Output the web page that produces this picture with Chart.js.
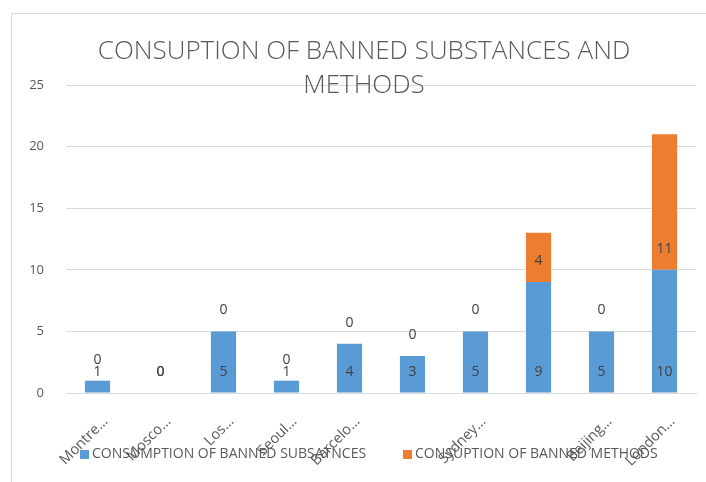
<!DOCTYPE html>
<html>
<head>
<meta charset="utf-8">
<script src="https://cdn.jsdelivr.net/npm/chart.js@4.4.1/dist/chart.umd.min.js"></script>
<style>
  html, body { margin: 0; padding: 0; background: #fff; overflow: hidden; }
  #wrap { position: relative; width: 706px; height: 482px; overflow: hidden; }
  #frame { position: absolute; left: 11px; top: 13px; width: 720px; height: 500px;
           border-left: 1px solid #d9d9d9; border-top: 1px solid #d9d9d9; }
  canvas { position: absolute; left: 0; top: 0; }
</style>
</head>
<body>
<div id="wrap">
  <div id="frame"></div>
  <canvas id="c" width="706" height="482"></canvas>
</div>
<script>
// Host cities (names truncated as on the axis)
const categories = ['Montre…', 'Mosco…', 'Los…', 'Seoul…', 'Barcelo…', '', 'Sydney…', '', 'Beijing…', 'London…'];
// Cases per Games
const bannedSubstances = [1, 0, 5, 1, 4, 3, 5, 9, 5, 10];
const bannedMethods    = [0, 0, 0, 0, 0, 0, 0, 4, 0, 11];
const yTicks = [0, 5, 10, 15, 20, 25];
const titleLines = ['CONSUPTION OF BANNED SUBSTANCES AND', 'METHODS'];
const seriesNames = ['CONSUMPTION OF BANNED SUBSATNCES', 'CONSUPTION OF BANNED METHODS'];
const seriesColors = ['#5b9bd5', '#ed7d31'];

const FONT = '"Open Sans", "Liberation Sans", sans-serif';
const GREY = '#595959';

// Two-line chart title, centred over the chart object
const titlePlugin = {
  id: 'titleText',
  afterDraw(chart) {
    const ctx = chart.ctx;
    ctx.save();
    ctx.font = '300 26px ' + FONT;
    ctx.fillStyle = GREY;
    ctx.textAlign = 'center';
    ctx.textBaseline = 'middle';
    titleLines.forEach((t, i) => ctx.fillText(t, 364, 52 + i * 34));
    ctx.restore();
  }
};

// Legend row under the axis labels
const legendPlugin = {
  id: 'legendRow',
  afterDraw(chart) {
    const ctx = chart.ctx;
    ctx.save();
    ctx.font = '14px ' + FONT;
    ctx.textBaseline = 'middle';
    ctx.textAlign = 'left';
    const y = 454.5;
    const starts = [80, 403];
    seriesNames.forEach((name, i) => {
      ctx.fillStyle = seriesColors[i];
      ctx.fillRect(starts[i], y - 4.5, 9, 9);
      ctx.fillStyle = GREY;
      ctx.fillText(name, starts[i] + 12, y);
    });
    ctx.restore();
  }
};

// Value labels placed just above the base of each segment
const valueLabels = {
  id: 'valueLabels',
  afterDatasetsDraw(chart) {
    const ctx = chart.ctx;
    const yScale = chart.scales.y;
    ctx.save();
    ctx.font = '14px ' + FONT;
    ctx.fillStyle = '#404040';
    ctx.textAlign = 'center';
    ctx.textBaseline = 'middle';
    chart.data.datasets.forEach((ds, di) => {
      const meta = chart.getDatasetMeta(di);
      meta.data.forEach((bar, j) => {
        let base = 0;
        for (let k = 0; k < di; k++) base += chart.data.datasets[k].data[j];
        const y = yScale.getPixelForValue(base) - 21;
        ctx.fillText(String(ds.data[j]), bar.x, y);
      });
    });
    ctx.restore();
  }
};

new Chart(document.getElementById('c'), {
  type: 'bar',
  data: {
    labels: categories,
    datasets: [
      { label: seriesNames[0], data: bannedSubstances, backgroundColor: seriesColors[0] },
      { label: seriesNames[1], data: bannedMethods, backgroundColor: seriesColors[1] }
    ]
  },
  options: {
    responsive: false,
    animation: false,
    devicePixelRatio: 1,
    categoryPercentage: 0.8,
    barPercentage: 0.5,
    layout: { padding: { top: 85, right: 10, left: 0, bottom: 0 } },
    plugins: {
      legend: { display: false },
      title: { display: false },
      tooltip: { enabled: false }
    },
    scales: {
      x: {
        stacked: true,
        grid: { display: false },
        border: { color: '#d9d9d9', width: 1 },
        ticks: {
          autoSkip: false,
          maxRotation: 45,
          minRotation: 45,
          color: GREY,
          font: { family: FONT, size: 14.5 },
          padding: 12,
          labelOffset: 8
        },
        afterFit(scale) { scale.height = 89; }
      },
      y: {
        stacked: true,
        min: 0,
        max: 25,
        afterBuildTicks(scale) { scale.ticks = yTicks.map(v => ({ value: v })); },
        grid: { color: '#d9d9d9', lineWidth: 1, drawTicks: false },
        border: { display: false },
        ticks: {
          color: GREY,
          font: { family: FONT, size: 13 },
          padding: 22
        },
        afterFit(scale) { scale.width = 66; }
      }
    }
  },
  plugins: [valueLabels, titlePlugin, legendPlugin]
});
</script>
</body>
</html>
